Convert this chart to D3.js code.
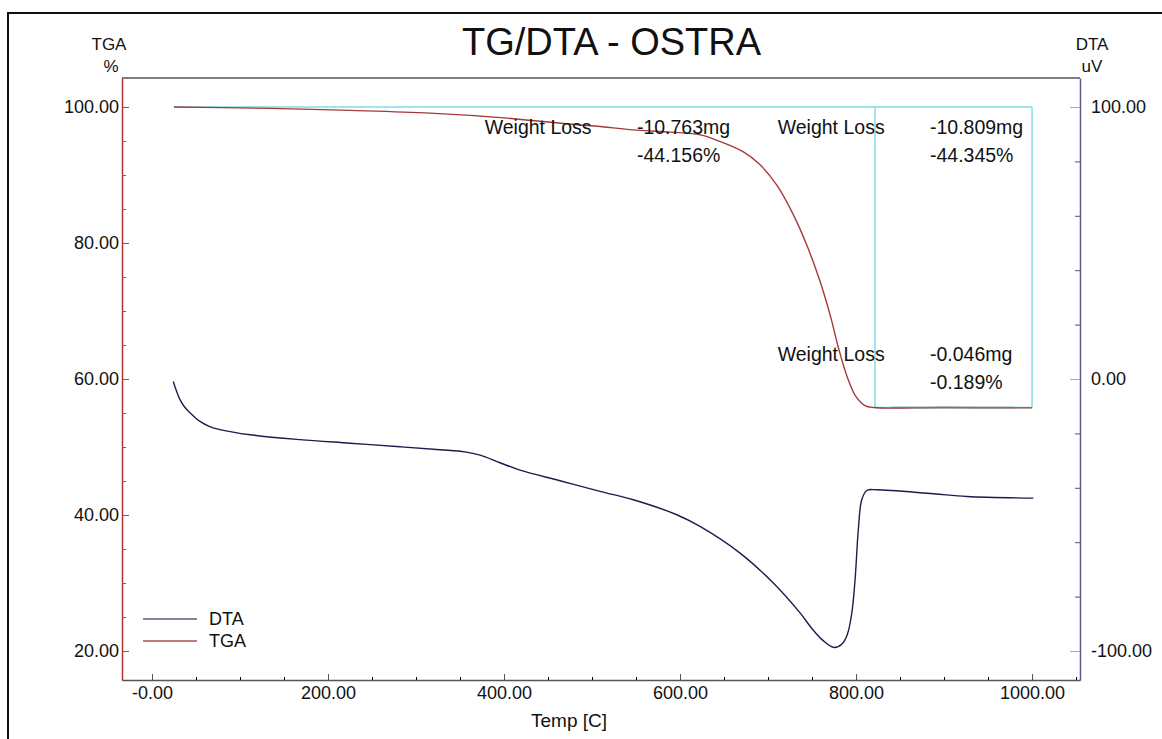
<!DOCTYPE html>
<html>
<head>
<meta charset="utf-8">
<script src="https://cdn.jsdelivr.net/npm/d3@7"></script>
<style>
  body { margin: 0; background: #fff; }
  text { font-family: "Liberation Sans", Arial, sans-serif; fill: #111; }
</style>
</head>
<body>
<div id="chart"></div>
<script>
// Data
const dtaTemp = [24.2, 27, 31.8, 37, 43.2, 54.5, 65, 77.3, 111.4, 168.2, 225, 281.8, 327.3, 355.7, 372.7, 395.5, 418.2, 463.6, 509.1, 546.9, 596.3, 622.7, 668.2, 706, 736.4, 750, 762, 775, 784, 790, 795, 798.9, 802.6, 806.5, 812.2, 823.5, 887.8, 925.8, 1001.5];
const dtaValue = [-0.9, -3.7, -7.6, -10.3, -12.4, -15.6, -17.4, -18.6, -20.5, -22.3, -23.6, -24.9, -26.0, -26.8, -28.0, -30.8, -33.5, -37.4, -41.3, -44.4, -49.9, -54.2, -64.0, -75.0, -86.0, -91.8, -96.0, -98.7, -97.4, -94.0, -86.5, -73.8, -55.4, -44.4, -41.0, -40.7, -42.2, -43.2, -43.8];

const tgaTemp = [25, 80, 134, 225, 316, 400, 464, 503, 551, 589, 623, 646, 672, 691, 710, 729, 744, 759, 771, 780, 790, 800, 810, 820, 900, 1000];
const tgaValue = [100.0, 99.9, 99.8, 99.5, 99.1, 98.4, 97.6, 97.2, 96.6, 96.3, 95.9, 94.9, 93.4, 91.5, 88.5, 84.1, 79.7, 74.4, 69.2, 64.6, 60.3, 57.4, 56.1, 55.8, 55.8, 55.75];

// weight-loss analysis markers (temperature, %)
const markerTemps = [25, 821.6, 1000];
const markerLevels = [100, 55.8];

const weightLossLabels = ["Weight Loss", "Weight Loss", "Weight Loss"];
const weightLossMg = ["-10.763mg", "-10.809mg", "-0.046mg"];
const weightLossPct = ["-44.156%", "-44.345%", "-0.189%"];

const xMajorTicks = [0, 200, 400, 600, 800, 1000];
const xTickLabels = ["-0.00", "200.00", "400.00", "600.00", "800.00", "1000.00"];
const tgaTicks = [20, 40, 60, 80, 100];
const dtaTicks = [-100, 0, 100];

const W = 1162, H = 739;
const svg = d3.select("#chart").append("svg")
    .attr("width", W)
    .attr("height", H);

// outer frame
svg.append("rect")
    .attr("x", 8).attr("y", 13)
    .attr("width", W + 20).attr("height", H + 20)
    .attr("fill", "none")
    .attr("stroke", "#111")
    .attr("stroke-width", 2);

// scales
const x = d3.scaleLinear().domain([-34.1, 1054.5]).range([122, 1080]);
const yL = d3.scaleLinear().domain([15.74, 104.26]).range([680, 78]);
const yR = d3.scaleLinear().domain([-110.66, 110.66]).range([680, 78]);

const fmt = d => d.toFixed(2);

// title
svg.append("text")
    .attr("x", 462).attr("y", 55)
    .style("font-size", "38px")
    .text("TG/DTA - OSTRA");

// axis titles
svg.append("text").attr("x", 109).attr("y", 50).attr("text-anchor", "middle")
    .style("font-size", "17px").text("TGA");
svg.append("text").attr("x", 111).attr("y", 72).attr("text-anchor", "middle")
    .style("font-size", "17px").text("%");
svg.append("text").attr("x", 1092).attr("y", 50).attr("text-anchor", "middle")
    .style("font-size", "17px").text("DTA");
svg.append("text").attr("x", 1092).attr("y", 72).attr("text-anchor", "middle")
    .style("font-size", "17px").text("uV");

// top frame line
svg.append("line")
    .attr("x1", 122).attr("x2", 1080)
    .attr("y1", 78).attr("y2", 78)
    .attr("stroke", "#555").attr("stroke-width", 1.5);

// X axis (minor then major)
svg.append("g")
    .attr("transform", "translate(0,680)")
    .call(d3.axisBottom(x).tickValues(d3.range(0, 1051, 50)).tickSize(-3).tickSizeOuter(0).tickFormat(""))
    .call(g => g.select(".domain").attr("stroke", "#555").attr("stroke-width", 1.5));

svg.append("g")
    .attr("transform", "translate(0,680)")
    .call(d3.axisBottom(x).tickValues(xMajorTicks).tickSize(-6).tickSizeOuter(0).tickPadding(6)
        .tickFormat((d, i) => xTickLabels[i]))
    .call(g => g.select(".domain").remove())
    .call(g => g.selectAll("line").attr("stroke", "#555"))
    .call(g => g.selectAll("text").style("font-size", "18px").attr("fill", "#111"));

svg.append("text")
    .attr("x", 569).attr("y", 727)
    .attr("text-anchor", "middle")
    .style("font-size", "19px")
    .text("Temp  [C]");

// left TGA axis
svg.append("g")
    .attr("transform", "translate(122,0)")
    .call(d3.axisLeft(yL).tickValues(d3.range(20, 101, 5)).tickSize(-4).tickSizeOuter(0).tickFormat(""))
    .call(g => g.select(".domain").attr("stroke", "#b03232").attr("stroke-width", 1.5))
    .call(g => g.selectAll(".tick line").attr("stroke", "#666"));

svg.append("g")
    .attr("transform", "translate(122,0)")
    .call(d3.axisLeft(yL).tickValues(tgaTicks).tickSize(-7).tickSizeOuter(0).tickPadding(3)
        .tickFormat(fmt))
    .call(g => g.select(".domain").remove())
    .call(g => g.selectAll("line").attr("stroke", "#666"))
    .call(g => g.selectAll("text").style("font-size", "18px").attr("fill", "#111"));

// right DTA axis
svg.append("g")
    .attr("transform", "translate(1080,0)")
    .call(d3.axisRight(yR).tickValues(d3.range(-100, 101, 20)).tickSize(-5).tickSizeOuter(0).tickFormat(""))
    .call(g => g.select(".domain").attr("stroke", "#5c5c8c").attr("stroke-width", 1.5))
    .call(g => g.selectAll(".tick line").attr("stroke", "#555"));

svg.append("g")
    .attr("transform", "translate(1080,0)")
    .call(d3.axisRight(yR).tickValues(dtaTicks).tickSize(-10).tickSizeOuter(0).tickPadding(11)
        .tickFormat(fmt))
    .call(g => g.select(".domain").remove())
    .call(g => g.selectAll("line").attr("stroke", "#aaa"))
    .call(g => g.selectAll("text").style("font-size", "18px").attr("fill", "#111"));

// cyan weight-loss marker box
const cyan = "#7fdde6";
const boxTop = yL(markerLevels[0]), boxBottom = yL(markerLevels[1]);
svg.append("line")
    .attr("x1", x(markerTemps[0])).attr("x2", x(markerTemps[2]))
    .attr("y1", boxTop).attr("y2", boxTop)
    .attr("stroke", cyan).attr("stroke-width", 1.5);
svg.append("line")
    .attr("x1", x(markerTemps[1])).attr("x2", x(markerTemps[2]))
    .attr("y1", boxBottom).attr("y2", boxBottom)
    .attr("stroke", cyan).attr("stroke-width", 1.5);
[markerTemps[1], markerTemps[2]].forEach(t => {
    svg.append("line")
        .attr("x1", x(t)).attr("x2", x(t))
        .attr("y1", boxTop).attr("y2", boxBottom)
        .attr("stroke", cyan).attr("stroke-width", 1.5);
});

// curves
const tgaLine = d3.line()
    .x((d, i) => x(tgaTemp[i]))
    .y(d => yL(d))
    .curve(d3.curveCatmullRom.alpha(0.5));
const dtaLine = d3.line()
    .x((d, i) => x(dtaTemp[i]))
    .y(d => yR(d))
    .curve(d3.curveCatmullRom.alpha(0.5));

svg.append("path")
    .datum(dtaValue)
    .attr("d", dtaLine)
    .attr("fill", "none")
    .attr("stroke", "#1c1c4e")
    .attr("stroke-width", 1.4);

svg.append("path")
    .datum(tgaValue)
    .attr("d", tgaLine)
    .attr("fill", "none")
    .attr("stroke", "#a33a36")
    .attr("stroke-width", 1.4);

// flat tail of TGA shows gray over the box bottom (as in the reference)
svg.append("line")
    .attr("x1", x(840)).attr("x2", x(980))
    .attr("y1", boxBottom).attr("y2", boxBottom)
    .attr("stroke", "#777").attr("stroke-width", 1.4);

// weight-loss annotations (anchored in data units)
const annotAnchors = [
    { tLabel: 378, tValue: 551, row1: 96.0, row2: 91.9 },
    { tLabel: 711, tValue: 884, row1: 96.0, row2: 91.9 },
    { tLabel: 711, tValue: 884, row1: 62.6, row2: 58.5 }
];
annotAnchors.forEach((a, i) => {
    svg.append("text").attr("x", x(a.tLabel)).attr("y", yL(a.row1))
        .style("font-size", "19.5px").text(weightLossLabels[i]);
    svg.append("text").attr("x", x(a.tValue)).attr("y", yL(a.row1))
        .style("font-size", "19.5px").text(weightLossMg[i]);
    svg.append("text").attr("x", x(a.tValue)).attr("y", yL(a.row2))
        .style("font-size", "19.5px").text(weightLossPct[i]);
});

// legend
const legendItems = [
    { name: "DTA", color: "#5a5a78" },
    { name: "TGA", color: "#b0504c" }
];
const legend = svg.append("g").attr("transform", "translate(143,619)");
legendItems.forEach((d, i) => {
    legend.append("line")
        .attr("x1", 0).attr("x2", 54)
        .attr("y1", i * 22).attr("y2", i * 22)
        .attr("stroke", d.color).attr("stroke-width", 1.5);
    legend.append("text")
        .attr("x", 66).attr("y", i * 22 + 6)
        .style("font-size", "18px")
        .text(d.name);
});
</script>
</body>
</html>
